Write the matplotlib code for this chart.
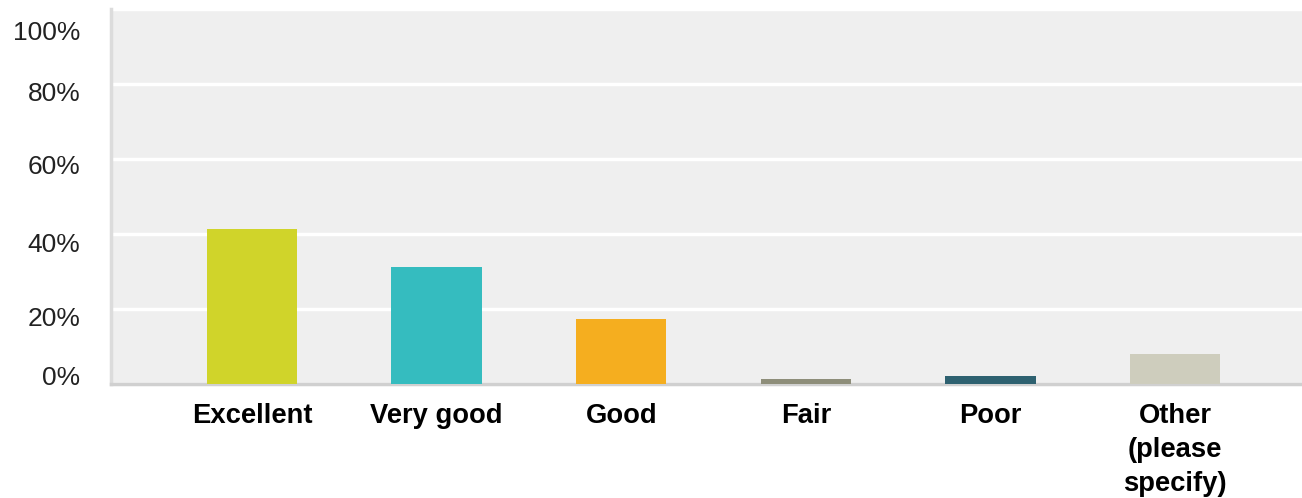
import numpy as np
import matplotlib
matplotlib.use("Agg")
import matplotlib.pyplot as plt
from matplotlib.transforms import ScaledTranslation

# survey answers and share of responses (%)
categories = ["Excellent", "Very good", "Good", "Fair", "Poor", "Other\n(please\nspecify)"]
values = [41.3, 31.2, 17.3, 1.3, 2.2, 8.1]
colors = ["#d0d42a", "#35bcbf", "#f5ae1f", "#8e8e7a", "#2e6170", "#cecdbd"]
yticks = [0, 20, 40, 60, 80, 100]
ytick_labels = ["0%", "20%", "40%", "60%", "80%", "100%"]

plt.rcParams['font.family'] = ['Liberation Sans', 'DejaVu Sans']

fig = plt.figure(figsize=(13.02, 4.98), dpi=100)
ax = fig.add_axes([0.0853, 0.229, 0.9147, 0.753])
ax.set_facecolor("#efefef")

x = np.arange(len(categories))
ax.bar(x, values, width=0.49, color=colors, zorder=3)

ax.set_xlim(-0.764, 5.688)
ax.set_ylim(0, 100)
ax.set_yticks(yticks)
ax.set_yticklabels(ytick_labels)
ax.set_xticks(x)
ax.set_xticklabels(categories, fontweight='bold', linespacing=1.38)

ax.grid(axis='y', color='white', linewidth=2.5, zorder=1)
ax.tick_params(axis='y', length=0, pad=22, labelsize=19, labelcolor='#222222')
ax.tick_params(axis='x', length=0, pad=14, labelsize=19.7, labelcolor='black')

for s in ['top', 'right']:
    ax.spines[s].set_visible(False)
ax.spines['left'].set_color('#dcdcdc')
ax.spines['left'].set_linewidth(2.5)
ax.spines['bottom'].set_color('#d0d0d0')
ax.spines['bottom'].set_linewidth(2.5)

# the tick labels sit a little off their grid lines in the original
offsets = [-8, 8, 9, 6, 8, 22]
for lab, off in zip(ax.get_yticklabels(), offsets):
    lab.set_transform(lab.get_transform() + ScaledTranslation(0, -off / 100, fig.dpi_scale_trans))

fig.savefig("out.png", dpi=100)
